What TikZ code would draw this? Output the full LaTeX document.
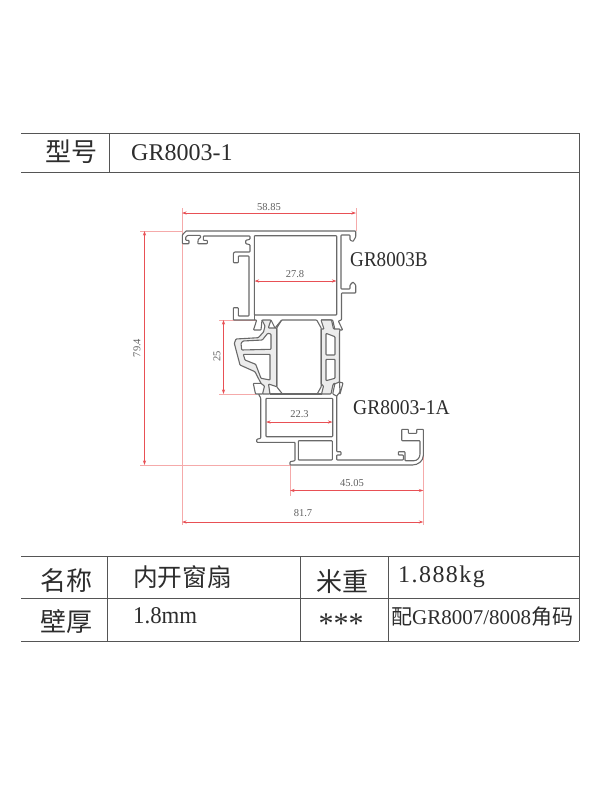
\documentclass[tikz,border=0pt]{standalone}
\usepackage{fontspec}
\setmainfont{Liberation Serif}
\newfontfamily\cjk{Noto Sans CJK SC}
\usetikzlibrary{arrows.meta}
\definecolor{profilegray}{RGB}{105,105,105}
\definecolor{tablegray}{RGB}{85,85,85}
\definecolor{dimred}{RGB}{232,80,85}
\definecolor{extpink}{RGB}{245,170,170}
\definecolor{breakgray}{RGB}{236,236,236}
\definecolor{textdark}{RGB}{45,45,45}
\tikzset{
  rule/.style={draw=tablegray,line width=1pt},
  prof/.style={draw=profilegray,line width=1.1pt,line join=round,rounded corners=0.7pt},
  strut/.style={prof,fill=breakgray,even odd rule},
  extline/.style={draw=extpink,line width=0.8pt},
  dimline/.style={draw=dimred,line width=0.7pt,{Stealth[length=4.5pt,width=3pt]}-{Stealth[length=4.5pt,width=3pt]}},
  dimtext/.style={text=gray!75!black,font=\fontsize{10.5}{12}\selectfont,inner sep=0pt},
  cjklabel/.style={text=textdark,inner sep=0pt,font=\cjk\fontsize{26}{28}\selectfont},
  cjkvalue/.style={text=textdark,inner sep=0pt,font=\cjk\fontsize{24.7}{28}\selectfont},
  latinlabel/.style={text=textdark,inner sep=0pt,anchor=west,font=\fontsize{24}{28}\selectfont},
  partlabel/.style={text=textdark,inner sep=0pt,anchor=west,font=\fontsize{21}{24}\selectfont}
}
\begin{document}
\begin{tikzpicture}[x=1pt,y=-1pt]
\path[fill=white,use as bounding box] (0,0) rectangle (600,800);

% table
\draw[rule] (21,133) -- (579,133);
\draw[rule] (21,172) -- (579,172);
\draw[rule] (21,556) -- (579,556);
\draw[rule] (21,598) -- (579,598);
\draw[rule] (21,641) -- (579,641);
\draw[rule] (579,133) -- (579,641);
\draw[rule] (109,133) -- (109,172);
\draw[rule] (107,556) -- (107,641);
\draw[rule] (300,556) -- (300,641);
\draw[rule] (388,556) -- (388,641);

\node[cjklabel] (xh) at (71,152) {型号};
\node[latinlabel] (code) at (131,153) {GR8003-1};
\node[cjklabel] (mc) at (66,581) {名称};
\node[cjkvalue,anchor=west] (nkcs) at (133,577) {内开窗扇};
\node[cjklabel] (mz) at (342,582) {米重};
\node[latinlabel] (kg) at (398,577) {\addfontfeature{LetterSpace=6}1.888kg};
\node[cjklabel] (bh) at (66,622) {壁厚};
\node[latinlabel] (mm) at (133,616) {\scalebox{0.95}[1]{1.8mm}};
\node[text=textdark,inner sep=0pt,font=\fontsize{30}{30}\selectfont] (stars) at (341,624) {***};
\node[text=textdark,inner sep=0pt,anchor=west,font=\fontsize{21}{22}\selectfont] (pei) at (391,617) {{\cjk 配}GR8007/8008{\cjk 角码}};

% part labels
\node[partlabel] (partb) at (350,260) {\scalebox{0.91}[1]{GR8003B}};
\node[partlabel] (parta) at (353,408) {\scalebox{0.93}[1]{GR8003-1A}};

% extension lines
\draw[extline] (182,208) -- (182,525);
\draw[extline] (356,208) -- (356,231);
\draw[extline] (140,231) -- (182,231);
\draw[extline] (140,465) -- (290,465);
\draw[extline] (219,320) -- (256,320);
\draw[extline] (219,394) -- (256,394);
\draw[extline] (290,465) -- (290,496);
\draw[extline] (423.3,445) -- (423.3,525);

% central thermal break
\draw[prof]
 (276.7,328) -- (281.7,320) -- (316.7,320) -- (321.2,328) -- (321.2,386.7) -- (317,394.3) -- (282.7,394.3) -- (276.7,386.7) -- cycle;

% upper profile (GR8003B)
\draw[prof]
 (186,231) -- (355.7,231) -- (355.7,237) -- (353,241.5) -- (350,240) -- (350,235) -- (341,235)
 -- (341,289) -- (350,289) -- (350,285) -- (353,282) -- (355.7,285) -- (355.7,293) -- (341.5,293)
 -- (341.5,320) -- (338.3,321) -- (342.7,330) -- (335,330) -- (332.7,320) -- (321,320);
\draw[prof]
 (262,320) -- (261,330) -- (253.5,330) -- (256.7,320) -- (233.3,320) -- (233.3,307.7) -- (238.3,307.7) -- (238.3,316) -- (249,316)
 -- (249,256) -- (238.3,256) -- (238.3,262.7) -- (233.3,262.7) -- (233.3,253.7) -- (234.3,252) -- (250,252)
 -- (250,244.7) -- (245.7,243.7) -- (245.7,240.3) -- (250,239.3) -- (250,236) -- (203.3,236) -- (203.3,240.3) -- (207.3,240.3)
 -- (207.3,243.7) -- (197.7,243.7) -- (198.3,239.3) -- (201,237) -- (200,235.3) -- (188,235.3) -- (185.7,237) -- (185.7,240.3)
 -- (189,240.3) -- (189,243.7) -- (182.3,243.7) -- (182.3,235) -- (186,231);
\draw[prof] (254.3,235.7) rectangle (336.7,315);
\draw[prof] (254.3,315) -- (254.3,320);

% left strut
\draw[strut]
 (262,320) -- (271,320) -- (268.3,328) -- (276.7,328) -- (276.7,386.7) -- (268.5,384) -- (270,394) -- (262.5,394) -- (264.5,386)
 -- (261,383.4) -- (255,371.7) -- (240,365) -- (234.3,343.3) -- (236,339) -- (258.3,337.7) -- (263.5,332) -- (265,326) -- cycle
 (241,343.3) -- (241.7,350) -- (271,349.3) -- (271,334) -- (267.7,333.3) -- (262.3,340) -- (243,341) -- cycle
 (243.3,354.3) -- (245,360) -- (255.7,364.3) -- (261,378.3) -- (270,380) -- (270,354.3) -- cycle;
\draw[prof] (271,320) -- (275,328) -- (281.7,320);

% right strut
\draw[strut]
 (321,320) -- (331.5,320) -- (333.5,329) -- (340,329) -- (339.5,333) -- (339.5,382) -- (333,384.5) -- (331,394) -- (321.5,394) -- (323.5,386) -- (321.2,384) -- (321.2,329) -- (324,329) -- cycle
 (326,333.3) -- (326,355) -- (335,355) -- (335,336.7) -- cycle
 (326,359.3) -- (326,380.7) -- (335,378.3) -- (335,359.3) -- cycle;

% lower profile (GR8003-1A)
\draw[prof]
 (262.5,394) -- (255.5,394) -- (253.3,383.4) -- (261,383.4)
 (258.5,394) -- (260.7,398) -- (260.7,438.3) -- (256.7,439.3) -- (256.7,442.3) -- (295,442.3) -- (295,460.7) -- (290,461.7) -- (290,465)
 -- (411.7,465) .. controls (418,465) and (423.3,461) .. (423.3,455) -- (423.3,429.3) -- (416.7,429.3) -- (416.7,433.3) -- (408.3,433.3)
 -- (408.3,429.3) -- (401.7,429.3) -- (401.7,440.7) -- (420,440.7) -- (420,453.3) .. controls (420,458) and (417,460.7) .. (413.3,460.7)
 -- (405,460.7) -- (405,451.7) -- (398.3,451.7) -- (398.3,455) -- (403.3,455) -- (403.3,460) -- (336.7,460) -- (336.7,455) -- (341,455)
 -- (341,451.7) -- (336.7,451.7) -- (336.7,396) -- (340,392) -- (339.5,382) -- (343,383) -- (340,394);
\draw[prof] (333,384.5) -- (335,383) -- (332.7,394) -- (336.7,396);
\draw[prof] (266,398.3) rectangle (332.7,436.7);
\draw[prof] (298.3,440.7) rectangle (332.3,460);
\draw[prof] (321.5,394) -- (270,394);

% dimensions
\coordinate (d1a) at (182,213); \coordinate (d1b) at (356,213);
\draw[dimline] (d1a) -- (d1b);
\coordinate (d2a) at (254.5,281); \coordinate (d2b) at (336.5,281);
\draw[dimline] (d2a) -- (d2b);
\coordinate (d3a) at (266,422); \coordinate (d3b) at (332.5,422);
\draw[dimline] (d3a) -- (d3b);
\coordinate (d4a) at (290,490.5); \coordinate (d4b) at (423.3,490.5);
\draw[dimline] (d4a) -- (d4b);
\coordinate (d5a) at (182,522); \coordinate (d5b) at (423.3,522);
\draw[dimline] (d5a) -- (d5b);
\coordinate (d6a) at (144.5,231); \coordinate (d6b) at (144.5,465);
\draw[dimline] (d6a) -- (d6b);
\coordinate (d7a) at (223.5,320); \coordinate (d7b) at (223.5,394);
\draw[dimline] (d7a) -- (d7b);

\node[dimtext] (t1) at (269,207) {58.85};
\node[dimtext] (t2) at (295,274) {27.8};
\node[dimtext] (t3) at (299.5,414) {22.3};
\node[dimtext] (t4) at (352,483) {45.05};
\node[dimtext] (t5) at (303,513) {81.7};
\node[dimtext,rotate=90] (t6) at (137,348) {79.4};
\node[dimtext,rotate=90] (t7) at (217,356) {25};
\end{tikzpicture}
\end{document}
